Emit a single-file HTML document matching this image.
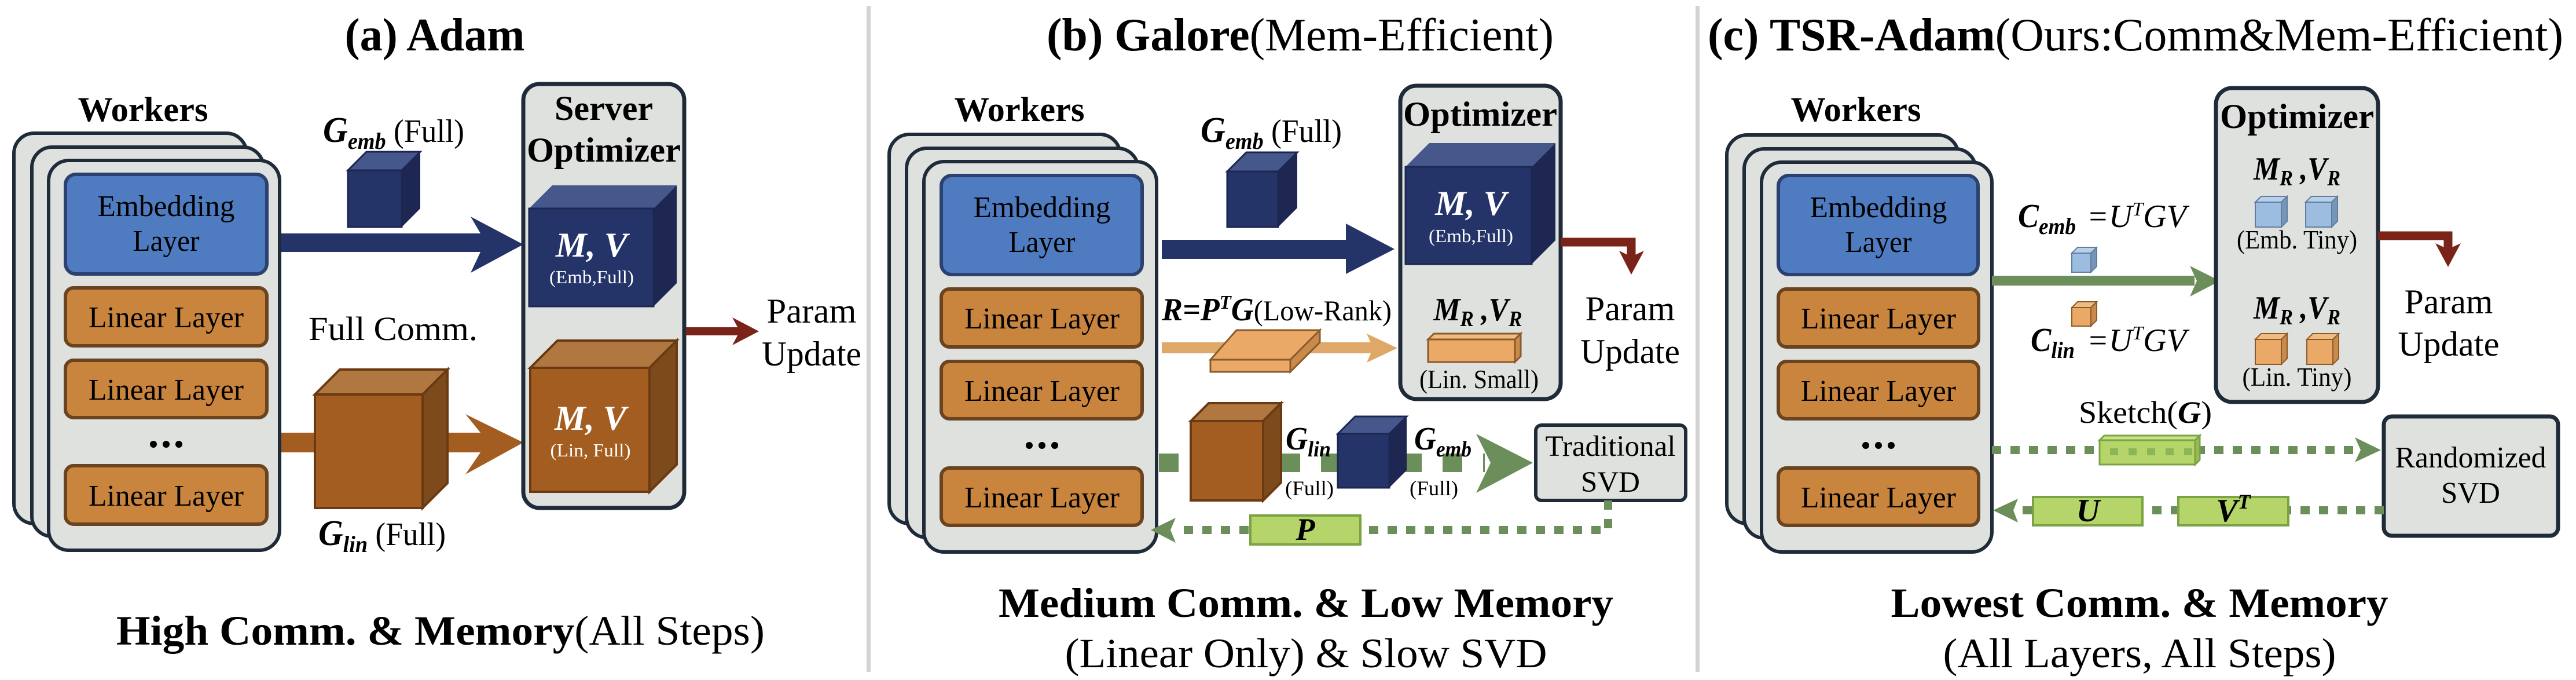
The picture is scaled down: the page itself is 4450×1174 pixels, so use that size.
<!DOCTYPE html>
<html><head><meta charset="utf-8"><style>
html,body{margin:0;padding:0;background:#fff;}
svg{display:block;}
svg text{font-family:"Liberation Serif","Times New Roman","Nimbus Roman","FreeSerif","DejaVu Serif",serif;}
.b{font-weight:bold}.i{font-style:italic}
.card{fill:#dfe1df;stroke:#1f2b38;stroke-width:6}
.emb{fill:#4f7bc0;stroke:#2b4170;stroke-width:6}
.lin{fill:#c9843d;stroke:#6a4420;stroke-width:6}
.opt{fill:#dfe1df;stroke:#1f2b38;stroke-width:7}
</style></head><body>
<svg width="4450" height="1174" viewBox="0 0 4450 1174" xmlns="http://www.w3.org/2000/svg">
<rect width="4450" height="1174" fill="#fff"/>
<rect x="1497" y="10" width="7" height="1150" fill="#d3d3d3"/>
<rect x="2929" y="10" width="7" height="1150" fill="#d3d3d3"/>

<!-- Titles -->
<text x="751" y="87" font-size="80" class="b" text-anchor="middle" textLength="311" lengthAdjust="spacingAndGlyphs">(a) Adam</text>
<text x="2246" y="87" font-size="80" text-anchor="middle" textLength="876" lengthAdjust="spacingAndGlyphs"><tspan class="b">(b) Galore</tspan>(Mem-Efficient)</text>
<text x="3689" y="87" font-size="80" text-anchor="middle" textLength="1478" lengthAdjust="spacingAndGlyphs"><tspan class="b">(c) TSR-Adam</tspan>(Ours:Comm&amp;Mem-Efficient)</text>

<!-- ===== Panel A ===== -->
<text x="247" y="209" font-size="60" class="b" text-anchor="middle" textLength="225" lengthAdjust="spacingAndGlyphs">Workers</text>
<rect class="card" x="24" y="230" width="402" height="674" rx="35"/>
<rect class="card" x="55" y="254" width="400" height="672" rx="35"/>
<rect class="card" x="84" y="277" width="399" height="673" rx="35"/>
<rect class="emb" x="113" y="301" width="348" height="172" rx="18"/>
<text x="287" y="373" font-size="52" text-anchor="middle" textLength="237" lengthAdjust="spacingAndGlyphs">Embedding</text>
<text x="287" y="433" font-size="52" text-anchor="middle" textLength="115" lengthAdjust="spacingAndGlyphs">Layer</text>
<rect class="lin" x="113" y="497" width="348" height="100" rx="14"/>
<text x="287" y="565" font-size="52" text-anchor="middle" textLength="268" lengthAdjust="spacingAndGlyphs">Linear Layer</text>
<rect class="lin" x="113" y="622" width="348" height="99" rx="14"/>
<text x="287" y="690" font-size="52" text-anchor="middle" textLength="268" lengthAdjust="spacingAndGlyphs">Linear Layer</text>
<circle cx="265" cy="767" r="6"/><circle cx="287" cy="767" r="6"/><circle cx="309" cy="767" r="6"/>
<rect class="lin" x="113" y="804" width="348" height="101" rx="14"/>
<text x="287" y="873" font-size="52" text-anchor="middle" textLength="268" lengthAdjust="spacingAndGlyphs">Linear Layer</text>

<text x="558" y="245" font-size="62" textLength="244" lengthAdjust="spacingAndGlyphs"><tspan class="b i">G</tspan><tspan class="b i" font-size="40" dy="12">emb</tspan><tspan font-size="56" dy="-12"> (Full)</tspan></text>
<polygon points="601,294 633,262 726,262 694,294" fill="#45578b" stroke="#1c2650" stroke-width="3"/>
<polygon points="694,294 726,262 726,360 694,392" fill="#1d2752"/>
<rect x="601" y="294" width="93" height="98" fill="#243469" stroke="#1c2650" stroke-width="3"/>

<polygon points="486,403 830,403 813,374 904,422 813,471 830,435 486,435" fill="#243469"/>
<text x="679" y="587" font-size="58" text-anchor="middle" textLength="292" lengthAdjust="spacingAndGlyphs">Full Comm.</text>
<polygon points="486,747 830,747 804,715 904,764 804,819 830,781 486,781" fill="#a35d20"/>
<polygon points="544,681 587,638 773,638 730,681" fill="#b07840" stroke="#6b3a12" stroke-width="4"/>
<polygon points="730,681 773,638 773,834 730,877" fill="#7c4a1b" stroke="#6b3a12" stroke-width="4"/>
<rect x="544" y="681" width="186" height="196" fill="#a35d20" stroke="#6b3a12" stroke-width="4"/>
<text x="550" y="941" font-size="62" textLength="220" lengthAdjust="spacingAndGlyphs"><tspan class="b i">G</tspan><tspan class="b i" font-size="40" dy="12">lin</tspan><tspan font-size="56" dy="-12"> (Full)</tspan></text>

<rect class="opt" x="904" y="145" width="278" height="732" rx="28"/>
<text x="1043" y="207" font-size="60" class="b" text-anchor="middle" textLength="170" lengthAdjust="spacingAndGlyphs">Server</text>
<text x="1043" y="279" font-size="60" class="b" text-anchor="middle" textLength="266" lengthAdjust="spacingAndGlyphs">Optimizer</text>
<polygon points="914,360 954,320 1169,320 1129,360" fill="#45578b"/>
<polygon points="1129,360 1169,320 1169,489 1129,529" fill="#1d2752"/>
<rect x="914" y="360" width="215" height="169" fill="#243469" stroke="#1c2650" stroke-width="3"/>
<text x="1022" y="443" font-size="60" class="b i" fill="#fff" text-anchor="middle" textLength="124" lengthAdjust="spacingAndGlyphs">M, V</text>
<text x="1022" y="489" font-size="32" fill="#fff" text-anchor="middle" textLength="146" lengthAdjust="spacingAndGlyphs">(Emb,Full)</text>
<polygon points="916,635 963,588 1169,588 1122,635" fill="#b07840" stroke="#6b3a12" stroke-width="4"/>
<polygon points="1122,635 1169,588 1169,802 1122,849" fill="#7c4a1b" stroke="#6b3a12" stroke-width="4"/>
<rect x="916" y="635" width="206" height="214" fill="#a35d20" stroke="#6b3a12" stroke-width="4"/>
<text x="1020" y="742" font-size="60" class="b i" fill="#fff" text-anchor="middle" textLength="124" lengthAdjust="spacingAndGlyphs">M, V</text>
<text x="1020" y="788" font-size="32" fill="#fff" text-anchor="middle" textLength="139" lengthAdjust="spacingAndGlyphs">(Lin, Full)</text>

<rect x="1185" y="565" width="95" height="14" fill="#7a2318"/>
<polygon points="1265,548 1311,572 1265,596 1278,572" fill="#7a2318"/>
<text x="1402" y="557" font-size="60" text-anchor="middle" textLength="155" lengthAdjust="spacingAndGlyphs">Param</text>
<text x="1402" y="631" font-size="60" text-anchor="middle" textLength="172" lengthAdjust="spacingAndGlyphs">Update</text>

<text x="761" y="1113" font-size="72" text-anchor="middle" textLength="1120" lengthAdjust="spacingAndGlyphs"><tspan class="b">High Comm. &amp; Memory</tspan>(All Steps)</text>

<!-- ===== Panel B ===== -->
<text x="1761" y="209" font-size="60" class="b" text-anchor="middle" textLength="225" lengthAdjust="spacingAndGlyphs">Workers</text>
<rect class="card" x="1536" y="232" width="399" height="672" rx="35"/>
<rect class="card" x="1566" y="256" width="400" height="672" rx="35"/>
<rect class="card" x="1596" y="279" width="402" height="674" rx="35"/>
<rect class="emb" x="1626" y="303" width="347" height="171" rx="18"/>
<text x="1800" y="375" font-size="52" text-anchor="middle" textLength="237" lengthAdjust="spacingAndGlyphs">Embedding</text>
<text x="1800" y="435" font-size="52" text-anchor="middle" textLength="115" lengthAdjust="spacingAndGlyphs">Layer</text>
<rect class="lin" x="1626" y="499" width="347" height="100" rx="14"/>
<text x="1800" y="567" font-size="52" text-anchor="middle" textLength="268" lengthAdjust="spacingAndGlyphs">Linear Layer</text>
<rect class="lin" x="1626" y="624" width="347" height="99" rx="14"/>
<text x="1800" y="692" font-size="52" text-anchor="middle" textLength="268" lengthAdjust="spacingAndGlyphs">Linear Layer</text>
<circle cx="1778" cy="769" r="6"/><circle cx="1800" cy="769" r="6"/><circle cx="1822" cy="769" r="6"/>
<rect class="lin" x="1626" y="808" width="347" height="99" rx="14"/>
<text x="1800" y="876" font-size="52" text-anchor="middle" textLength="268" lengthAdjust="spacingAndGlyphs">Linear Layer</text>

<text x="2074" y="245" font-size="62" textLength="244" lengthAdjust="spacingAndGlyphs"><tspan class="b i">G</tspan><tspan class="b i" font-size="40" dy="12">emb</tspan><tspan font-size="56" dy="-12"> (Full)</tspan></text>
<polygon points="2120,296 2153,263 2241,263 2208,296" fill="#45578b" stroke="#1c2650" stroke-width="3"/>
<polygon points="2208,296 2241,263 2241,359 2208,392" fill="#1d2752"/>
<rect x="2120" y="296" width="88" height="96" fill="#243469" stroke="#1c2650" stroke-width="3"/>
<polygon points="2007,414 2325,414 2325,386 2409,430 2325,473 2325,447 2007,447" fill="#243469"/>

<text x="2007" y="553" font-size="56" textLength="397" lengthAdjust="spacingAndGlyphs"><tspan class="b i">R=P</tspan><tspan class="b i" font-size="34" dy="-20">T</tspan><tspan class="b i" dy="20">G</tspan><tspan font-size="50">(Low-Rank)</tspan></text>
<rect x="2007" y="591" width="370" height="19" fill="#dfa868"/>
<polygon points="2361,576 2414,601 2361,626 2372,601" fill="#dfa868"/>
<polygon points="2091,621 2136,570 2280,570 2229,621" fill="#eba968" stroke="#8a5a2a" stroke-width="3"/>
<polygon points="2229,621 2280,570 2280,591 2229,642" fill="#c98a4a" stroke="#8a5a2a" stroke-width="3"/>
<rect x="2091" y="621" width="138" height="21" fill="#eba968" stroke="#8a5a2a" stroke-width="3"/>

<rect class="opt" x="2419" y="148" width="277" height="541" rx="28"/>
<text x="2557" y="217" font-size="60" class="b" text-anchor="middle" textLength="266" lengthAdjust="spacingAndGlyphs">Optimizer</text>
<polygon points="2428,288 2469,247 2687,247 2646,288" fill="#45578b"/>
<polygon points="2646,288 2687,247 2687,415 2646,456" fill="#1d2752"/>
<rect x="2428" y="288" width="218" height="168" fill="#243469" stroke="#1c2650" stroke-width="3"/>
<text x="2541" y="371" font-size="60" class="b i" fill="#fff" text-anchor="middle" textLength="124" lengthAdjust="spacingAndGlyphs">M, V</text>
<text x="2541" y="418" font-size="32" fill="#fff" text-anchor="middle" textLength="146" lengthAdjust="spacingAndGlyphs">(Emb,Full)</text>
<text x="2553" y="553" font-size="56" class="b i" text-anchor="middle" textLength="153" lengthAdjust="spacingAndGlyphs">M<tspan font-size="38" dy="10">R</tspan><tspan dy="-10"> ,V</tspan><tspan font-size="38" dy="10">R</tspan></text>
<polygon points="2467,586 2477,576 2627,576 2617,586" fill="#f0bc80" stroke="#8a5a2a" stroke-width="3"/>
<polygon points="2617,586 2627,576 2627,615 2617,625" fill="#c98a4a" stroke="#8a5a2a" stroke-width="3"/>
<rect x="2467" y="586" width="150" height="39" fill="#eba968" stroke="#8a5a2a" stroke-width="3"/>
<text x="2555" y="670" font-size="46" text-anchor="middle" textLength="206" lengthAdjust="spacingAndGlyphs">(Lin. Small)</text>

<polyline points="2696,418 2818,418 2818,445" fill="none" stroke="#7a2318" stroke-width="15"/>
<polygon points="2797,433 2818,474 2840,433 2818,443" fill="#7a2318"/>
<text x="2816" y="553" font-size="60" text-anchor="middle" textLength="155" lengthAdjust="spacingAndGlyphs">Param</text>
<text x="2816" y="627" font-size="60" text-anchor="middle" textLength="172" lengthAdjust="spacingAndGlyphs">Update</text>

<line x1="2002" y1="799" x2="2565" y2="799" stroke="#6b8e5a" stroke-width="32" stroke-dasharray="34 36"/>
<polygon points="2550,749 2648,799 2550,851 2575,799" fill="#6b8e5a"/>
<polygon points="2057,727 2088,696 2213,696 2182,727" fill="#b07840" stroke="#6b3a12" stroke-width="4"/>
<polygon points="2182,727 2213,696 2213,833 2182,864" fill="#7c4a1b" stroke="#6b3a12" stroke-width="4"/>
<rect x="2057" y="727" width="125" height="137" fill="#a35d20" stroke="#6b3a12" stroke-width="4"/>
<polygon points="2311,749 2341,719 2430,719 2400,749" fill="#45578b" stroke="#1c2650" stroke-width="3"/>
<polygon points="2400,749 2430,719 2430,812 2400,842" fill="#1d2752"/>
<rect x="2311" y="749" width="89" height="93" fill="#243469" stroke="#1c2650" stroke-width="3"/>
<text x="2221" y="776" font-size="56" class="b i" textLength="78" lengthAdjust="spacingAndGlyphs">G<tspan font-size="38" dy="12">lin</tspan></text>
<text x="2262" y="855" font-size="36" text-anchor="middle" textLength="84" lengthAdjust="spacingAndGlyphs">(Full)</text>
<text x="2443" y="776" font-size="56" class="b i" textLength="99" lengthAdjust="spacingAndGlyphs">G<tspan font-size="38" dy="12">emb</tspan></text>
<text x="2477" y="855" font-size="36" text-anchor="middle" textLength="84" lengthAdjust="spacingAndGlyphs">(Full)</text>
<rect x="2653" y="734" width="259" height="130" rx="10" fill="#dfe1df" stroke="#1f2b38" stroke-width="6"/>
<text x="2782" y="787" font-size="51" text-anchor="middle" textLength="225" lengthAdjust="spacingAndGlyphs">Traditional</text>
<text x="2782" y="849" font-size="51" text-anchor="middle" textLength="102" lengthAdjust="spacingAndGlyphs">SVD</text>

<polyline points="2778,864 2778,915 2030,915" fill="none" stroke="#6b8e5a" stroke-width="14" stroke-dasharray="16 16"/>
<polygon points="2031,894 1988,915 2031,937 2022,915" fill="#6b8e5a"/>
<rect x="2160" y="890" width="190" height="50" fill="#b5d56a" stroke="#7aa344" stroke-width="4"/>
<text x="2255" y="932" font-size="54" class="b i" text-anchor="middle">P</text>

<text x="2256" y="1065" font-size="72" class="b" text-anchor="middle" textLength="1062" lengthAdjust="spacingAndGlyphs">Medium Comm. &amp; Low Memory</text>
<text x="2256" y="1152" font-size="72" text-anchor="middle" textLength="833" lengthAdjust="spacingAndGlyphs">(Linear Only) &amp; Slow SVD</text>

<!-- ===== Panel C ===== -->
<text x="3206" y="209" font-size="60" class="b" text-anchor="middle" textLength="225" lengthAdjust="spacingAndGlyphs">Workers</text>
<rect class="card" x="2983" y="233" width="400" height="671" rx="35"/>
<rect class="card" x="3013" y="257" width="400" height="672" rx="35"/>
<rect class="card" x="3043" y="280" width="398" height="673" rx="35"/>
<rect class="emb" x="3072" y="303" width="345" height="171" rx="18"/>
<text x="3245" y="375" font-size="52" text-anchor="middle" textLength="237" lengthAdjust="spacingAndGlyphs">Embedding</text>
<text x="3245" y="435" font-size="52" text-anchor="middle" textLength="115" lengthAdjust="spacingAndGlyphs">Layer</text>
<rect class="lin" x="3072" y="499" width="346" height="100" rx="14"/>
<text x="3245" y="567" font-size="52" text-anchor="middle" textLength="268" lengthAdjust="spacingAndGlyphs">Linear Layer</text>
<rect class="lin" x="3072" y="624" width="346" height="99" rx="14"/>
<text x="3245" y="692" font-size="52" text-anchor="middle" textLength="268" lengthAdjust="spacingAndGlyphs">Linear Layer</text>
<circle cx="3223" cy="769" r="6"/><circle cx="3245" cy="769" r="6"/><circle cx="3267" cy="769" r="6"/>
<rect class="lin" x="3072" y="808" width="346" height="99" rx="14"/>
<text x="3245" y="876" font-size="52" text-anchor="middle" textLength="268" lengthAdjust="spacingAndGlyphs">Linear Layer</text>

<text x="3486" y="392" font-size="58" class="b i" textLength="100" lengthAdjust="spacingAndGlyphs">C<tspan font-size="40" dy="12">emb</tspan></text>
<text x="3605" y="392" font-size="56" class="i" textLength="172" lengthAdjust="spacingAndGlyphs">=U<tspan font-size="34" dy="-20">T</tspan><tspan dy="20">GV</tspan></text>
<polygon points="3579,437 3589,427 3622,427 3612,437" fill="#b8d0ea" stroke="#5f7ea0" stroke-width="2"/>
<polygon points="3612,437 3622,427 3622,460 3612,470" fill="#7795b8" stroke="#5f7ea0" stroke-width="2"/>
<rect x="3579" y="437" width="33" height="33" fill="#9dbde0" stroke="#5f7ea0" stroke-width="2"/>
<rect x="3441" y="476" width="350" height="17" fill="#6b8e5a"/>
<polygon points="3783,459 3835,485 3783,512 3795,485" fill="#6b8e5a"/>
<polygon points="3579,531 3589,521 3622,521 3612,531" fill="#f0bc80" stroke="#8a5a2a" stroke-width="2"/>
<polygon points="3612,531 3622,521 3622,553 3612,563" fill="#c98a4a" stroke="#8a5a2a" stroke-width="2"/>
<rect x="3579" y="531" width="33" height="32" fill="#eba968" stroke="#8a5a2a" stroke-width="2"/>
<text x="3508" y="606" font-size="58" class="b i" textLength="76" lengthAdjust="spacingAndGlyphs">C<tspan font-size="40" dy="12">lin</tspan></text>
<text x="3605" y="606" font-size="56" class="i" textLength="172" lengthAdjust="spacingAndGlyphs">=U<tspan font-size="34" dy="-20">T</tspan><tspan dy="20">GV</tspan></text>

<rect class="opt" x="3828" y="152" width="280" height="542" rx="28"/>
<text x="3968" y="221" font-size="60" class="b" text-anchor="middle" textLength="266" lengthAdjust="spacingAndGlyphs">Optimizer</text>
<text x="3968" y="310" font-size="56" class="b i" text-anchor="middle" textLength="150" lengthAdjust="spacingAndGlyphs">M<tspan font-size="38" dy="10">R</tspan><tspan dy="-10"> ,V</tspan><tspan font-size="38" dy="10">R</tspan></text>
<g stroke="#5f7ea0" stroke-width="2">
<polygon points="3896,349 3906,339 3951,339 3941,349" fill="#b8d0ea"/>
<polygon points="3941,349 3951,339 3951,382 3941,392" fill="#7795b8"/>
<rect x="3896" y="349" width="45" height="43" fill="#9dbde0"/>
<polygon points="3983,349 3993,339 4038,339 4028,349" fill="#b8d0ea"/>
<polygon points="4028,349 4038,339 4038,382 4028,392" fill="#7795b8"/>
<rect x="3983" y="349" width="45" height="43" fill="#9dbde0"/>
</g>
<text x="3968" y="429" font-size="46" text-anchor="middle" textLength="208" lengthAdjust="spacingAndGlyphs">(Emb. Tiny)</text>
<text x="3968" y="550" font-size="56" class="b i" text-anchor="middle" textLength="150" lengthAdjust="spacingAndGlyphs">M<tspan font-size="38" dy="10">R</tspan><tspan dy="-10"> ,V</tspan><tspan font-size="38" dy="10">R</tspan></text>
<g stroke="#8a5a2a" stroke-width="2">
<polygon points="3896,586 3906,576 3951,576 3941,586" fill="#f0bc80"/>
<polygon points="3941,586 3951,576 3951,619 3941,629" fill="#c98a4a"/>
<rect x="3896" y="586" width="45" height="43" fill="#eba968"/>
<polygon points="3985,586 3995,576 4040,576 4030,586" fill="#f0bc80"/>
<polygon points="4030,586 4040,576 4040,619 4030,629" fill="#c98a4a"/>
<rect x="3985" y="586" width="45" height="43" fill="#eba968"/>
</g>
<text x="3968" y="666" font-size="46" text-anchor="middle" textLength="189" lengthAdjust="spacingAndGlyphs">(Lin. Tiny)</text>

<polyline points="4108,407 4229,407 4229,432" fill="none" stroke="#7a2318" stroke-width="15"/>
<polygon points="4207,420 4229,461 4251,420 4229,430" fill="#7a2318"/>
<text x="4230" y="541" font-size="60" text-anchor="middle" textLength="153" lengthAdjust="spacingAndGlyphs">Param</text>
<text x="4230" y="614" font-size="60" text-anchor="middle" textLength="175" lengthAdjust="spacingAndGlyphs">Update</text>

<text x="3706" y="730" font-size="54" text-anchor="middle" textLength="230" lengthAdjust="spacingAndGlyphs">Sketch(<tspan class="b i">G</tspan>)</text>
<line x1="3441" y1="777" x2="4078" y2="777" stroke="#6b8e5a" stroke-width="14" stroke-dasharray="16 16"/>
<polygon points="4068,755 4113,777 4068,798 4078,777" fill="#6b8e5a"/>
<polygon points="3627,760 3635,752 3800,752 3792,760" fill="#c8e28a" stroke="#7aa344" stroke-width="3"/>
<polygon points="3792,760 3800,752 3800,794 3792,802" fill="#98bb55" stroke="#7aa344" stroke-width="3"/>
<rect x="3627" y="760" width="165" height="42" fill="#b5d56a" stroke="#7aa344" stroke-width="3"/>
<line x1="3645" y1="780" x2="3790" y2="780" stroke="#8db556" stroke-width="12" stroke-dasharray="14 18"/>

<rect x="4118" y="719" width="301" height="206" rx="14" fill="#dfe1df" stroke="#1f2b38" stroke-width="7"/>
<text x="4268" y="807" font-size="52" text-anchor="middle" textLength="261" lengthAdjust="spacingAndGlyphs">Randomized</text>
<text x="4268" y="868" font-size="52" text-anchor="middle" textLength="102" lengthAdjust="spacingAndGlyphs">SVD</text>

<line x1="4118" y1="881" x2="3480" y2="881" stroke="#6b8e5a" stroke-width="14" stroke-dasharray="16 16"/>
<polygon points="3486,861 3443,881 3486,902 3478,881" fill="#6b8e5a"/>
<rect x="3512" y="858" width="189" height="49" fill="#b5d56a" stroke="#7aa344" stroke-width="4"/>
<rect x="3763" y="858" width="190" height="49" fill="#b5d56a" stroke="#7aa344" stroke-width="4"/>
<text x="3607" y="900" font-size="56" class="b i" text-anchor="middle">U</text>
<text x="3858" y="900" font-size="56" class="b i" text-anchor="middle">V<tspan font-size="36" dy="-22">T</tspan></text>

<text x="3696" y="1065" font-size="72" class="b" text-anchor="middle" textLength="859" lengthAdjust="spacingAndGlyphs">Lowest Comm. &amp; Memory</text>
<text x="3696" y="1152" font-size="72" text-anchor="middle" textLength="679" lengthAdjust="spacingAndGlyphs">(All Layers, All Steps)</text>
</svg>
</body></html>
